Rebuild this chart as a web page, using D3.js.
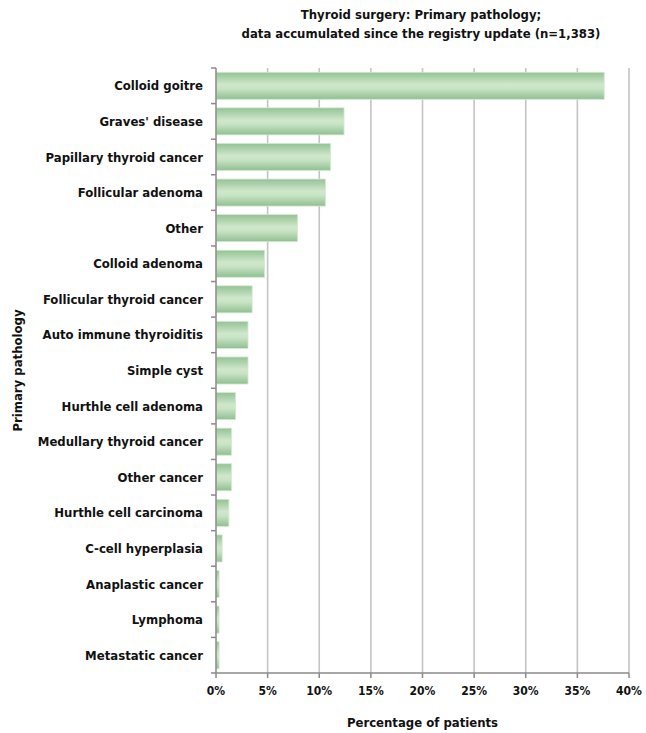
<!DOCTYPE html>
<html>
<head>
<meta charset="utf-8">
<script src="https://cdn.jsdelivr.net/npm/d3@7/dist/d3.min.js"></script>
<style>
  html, body { margin: 0; padding: 0; background: #fff; }
  svg { display: block; }
  text { font-family: "Liberation Sans Narrow", "DejaVu Sans Condensed", sans-serif; font-weight: bold; fill: #111; }
</style>
</head>
<body>
<svg id="chart" width="646" height="733"></svg>
<script>
// Primary pathology categories, top to bottom
const categories = [
  "Colloid goitre", "Graves' disease", "Papillary thyroid cancer", "Follicular adenoma",
  "Other", "Colloid adenoma", "Follicular thyroid cancer", "Auto immune thyroiditis",
  "Simple cyst", "Hurthle cell adenoma", "Medullary thyroid cancer", "Other cancer",
  "Hurthle cell carcinoma", "C-cell hyperplasia", "Anaplastic cancer", "Lymphoma",
  "Metastatic cancer"
];
// Share of patients (%)
const percentages = [37.6, 12.4, 11.1, 10.6, 7.9, 4.7, 3.5, 3.1, 3.1, 1.9, 1.5, 1.5, 1.25, 0.6, 0.3, 0.3, 0.3];
const xTicks = [0, 5, 10, 15, 20, 25, 30, 35, 40];
const titleLines = ["Thyroid surgery: Primary pathology;", "data accumulated since the registry update (n=1,383)"];

const svg = d3.select("#chart");
const m = { left: 216, right: 17, top: 68, bottom: 60 };
const W = 646, H = 733;

const x = d3.scaleLinear().domain([0, 40]).range([m.left, W - m.right]);
const y = d3.scaleBand().domain(categories).range([m.top, H - m.bottom]).paddingInner(0.24).paddingOuter(0.12);

// bar gradient
const defs = svg.append("defs");
const grad = defs.append("linearGradient").attr("id", "barGrad").attr("x1", 0).attr("y1", 0).attr("x2", 0).attr("y2", 1);
grad.append("stop").attr("offset", "0%").attr("stop-color", "#92c393");
grad.append("stop").attr("offset", "45%").attr("stop-color", "#cfe7cb");
grad.append("stop").attr("offset", "60%").attr("stop-color", "#c9e4c5");
grad.append("stop").attr("offset", "100%").attr("stop-color", "#8fc091");

// vertical gridlines
svg.append("g").selectAll("line").data(xTicks.filter(d => d > 0)).join("line")
  .attr("x1", d => x(d)).attr("x2", d => x(d))
  .attr("y1", m.top).attr("y2", H - m.bottom)
  .attr("stroke", "#c4c4c4").attr("stroke-width", 1.6);

// bars
svg.append("g").selectAll("rect").data(categories).join("rect")
  .attr("x", x(0))
  .attr("y", d => y(d))
  .attr("width", (d, i) => x(percentages[i]) - x(0))
  .attr("height", y.bandwidth())
  .attr("fill", "url(#barGrad)")
  .attr("stroke", "#d6e8d2").attr("stroke-width", 0.8);

// y axis
const yAxisG = svg.append("g").attr("transform", `translate(${m.left},0)`);
yAxisG.append("line").attr("x1", 0).attr("x2", 0).attr("y1", m.top).attr("y2", H - m.bottom)
  .attr("stroke", "#8a8a8a").attr("stroke-width", 1.5);
const step = y.step();
const boundaries = d3.range(categories.length + 1).map(i => m.top + i * (H - m.top - m.bottom) / categories.length);
yAxisG.selectAll("line.tk").data(boundaries).join("line").attr("class", "tk")
  .attr("x1", -5).attr("x2", 0).attr("y1", d => d).attr("y2", d => d)
  .attr("stroke", "#8a8a8a").attr("stroke-width", 1.5);
yAxisG.selectAll("text").data(categories).join("text")
  .attr("x", -13).attr("y", d => y(d) + y.bandwidth() / 2)
  .attr("dy", "0.35em").attr("text-anchor", "end")
  .style("font-size", "13px")
  .text(d => d);

// x axis
const xAxisG = svg.append("g").attr("transform", `translate(0,${H - m.bottom})`);
xAxisG.append("line").attr("x1", m.left).attr("x2", W - m.right).attr("y1", 0).attr("y2", 0)
  .attr("stroke", "#8a8a8a").attr("stroke-width", 1.5);
xAxisG.selectAll("line.tk").data(xTicks).join("line").attr("class", "tk")
  .attr("x1", d => x(d)).attr("x2", d => x(d)).attr("y1", 0).attr("y2", 5)
  .attr("stroke", "#8a8a8a").attr("stroke-width", 1.5);
xAxisG.selectAll("text").data(xTicks).join("text")
  .attr("x", d => x(d)).attr("y", 22)
  .attr("text-anchor", "middle")
  .style("font-size", "12px")
  .text(d => d + "%");

// axis titles
svg.append("text").attr("x", (m.left + W - m.right) / 2).attr("y", 727)
  .attr("text-anchor", "middle").style("font-size", "13px").text("Percentage of patients");
svg.append("text")
  .attr("transform", `translate(22,${(m.top + H - m.bottom) / 2}) rotate(-90)`)
  .attr("text-anchor", "middle").style("font-size", "13px").text("Primary pathology");

// chart title
svg.append("g").selectAll("text").data(titleLines).join("text")
  .attr("x", 421).attr("y", (d, i) => 19 + i * 19)
  .attr("text-anchor", "middle").style("font-size", "13px")
  .text(d => d);
</script>
</body>
</html>
